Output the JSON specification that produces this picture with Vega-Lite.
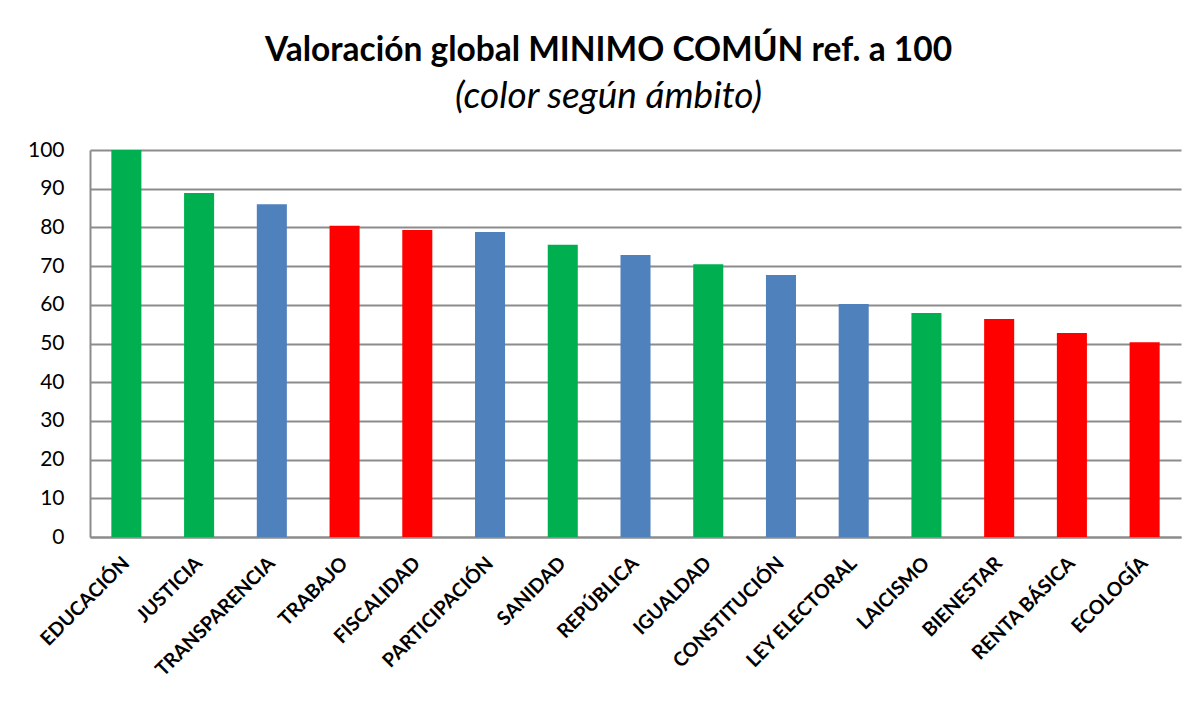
{
  "$schema": "https://vega.github.io/schema/vega-lite/v6.json",
  "autosize": "none",
  "width": 1091,
  "height": 387,
  "padding": {"left": 90, "top": 150, "right": 17, "bottom": 169},
  "background": "white",
  "title": {
    "text": "Valoración global MINIMO COMÚN ref. a 100",
    "subtitle": "(color según ámbito)",
    "anchor": "middle",
    "dx": -27,
    "offset": 23,
    "font": "Lato",
    "fontSize": 33.5,
    "fontWeight": "bold",
    "color": "black",
    "subtitleFont": "Lato",
    "subtitleFontSize": 37,
    "subtitleFontStyle": "italic",
    "subtitleColor": "black",
    "subtitlePadding": 11
  },
  "data": {
    "values": [
      {"tema": "EDUCACIÓN", "valor": 100, "ambito": "verde"},
      {"tema": "JUSTICIA", "valor": 88.9, "ambito": "verde"},
      {"tema": "TRANSPARENCIA", "valor": 86.0, "ambito": "azul"},
      {"tema": "TRABAJO", "valor": 80.4, "ambito": "rojo"},
      {"tema": "FISCALIDAD", "valor": 79.3, "ambito": "rojo"},
      {"tema": "PARTICIPACIÓN", "valor": 78.8, "ambito": "azul"},
      {"tema": "SANIDAD", "valor": 75.5, "ambito": "verde"},
      {"tema": "REPÚBLICA", "valor": 72.9, "ambito": "azul"},
      {"tema": "IGUALDAD", "valor": 70.5, "ambito": "verde"},
      {"tema": "CONSTITUCIÓN", "valor": 67.7, "ambito": "azul"},
      {"tema": "LEY ELECTORAL", "valor": 60.2, "ambito": "azul"},
      {"tema": "LAICISMO", "valor": 57.9, "ambito": "verde"},
      {"tema": "BIENESTAR", "valor": 56.3, "ambito": "rojo"},
      {"tema": "RENTA BÁSICA", "valor": 52.7, "ambito": "rojo"},
      {"tema": "ECOLOGÍA", "valor": 50.3, "ambito": "rojo"}
    ]
  },
  "mark": {"type": "bar"},
  "encoding": {
    "x": {
      "field": "tema",
      "type": "nominal",
      "sort": null,
      "title": null,
      "scale": {"paddingInner": 0.587, "paddingOuter": 0.2935},
      "axis": {
        "labelAngle": -45,
        "labelAlign": "right",
        "labelBaseline": "middle",
        "labelFont": "Lato",
        "labelFontSize": 19.5,
        "labelFontWeight": "bold",
        "labelColor": "black",
        "labelPadding": 23,
        "ticks": false,
        "domainColor": "#8c8c8c",
        "domainWidth": 2
      }
    },
    "y": {
      "field": "valor",
      "type": "quantitative",
      "title": null,
      "scale": {"domain": [0, 100], "nice": false},
      "axis": {
        "values": [0, 10, 20, 30, 40, 50, 60, 70, 80, 90, 100],
        "labelFont": "Lato",
        "labelFontSize": 21,
        "labelColor": "black",
        "labelPadding": 26,
        "ticks": false,
        "grid": true,
        "gridColor": "#8c8c8c",
        "gridWidth": 2,
        "domainColor": "#8c8c8c",
        "domainWidth": 2
      }
    },
    "color": {
      "field": "ambito",
      "type": "nominal",
      "legend": null,
      "scale": {"domain": ["verde", "azul", "rojo"], "range": ["#00B050", "#4F81BD", "#FF0000"]}
    }
  },
  "config": {"view": {"stroke": null}}
}
